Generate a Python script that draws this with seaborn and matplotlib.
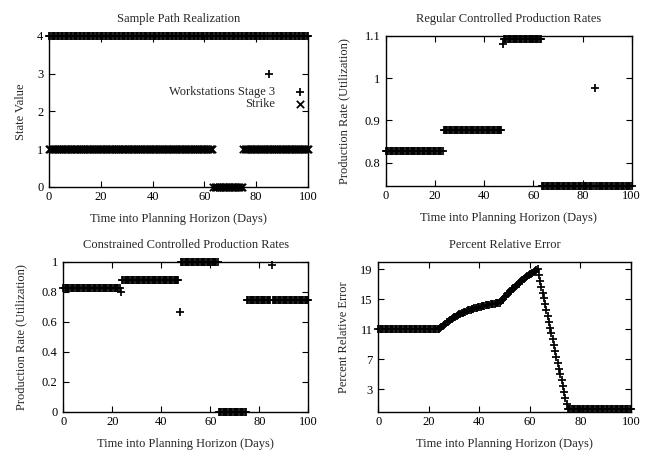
import numpy as np
import pandas as pd
import seaborn as sns
import matplotlib.pyplot as plt

# ---------------- data ----------------
# sampling instants of the simulation (half-day steps, 0..100 days)
days = np.arange(0, 100.5, 0.5)

# run-length encoded step series: (level, number of samples)
workstations_levels = [4, 3, 4]
workstations_counts = [170, 1, 30]

strike_levels = [1, 0, 1]
strike_counts = [127, 23, 51]

regular_levels = [0.828, 0.877, 1.082, 1.093, 0.745, 0.978, 0.745]
regular_counts = [47, 48, 1, 31, 43, 1, 30]

constrained_levels = [0.828, 0.80, 0.877, 0.667, 1.0, 0.0, 0.745, 0.978, 0.745]
constrained_counts = [47, 1, 47, 1, 31, 23, 20, 1, 30]

# percent relative error, segment by segment
error_flat_start = [11.0] * 49
error_rise_1 = [11.17, 11.32, 11.48, 11.62, 11.76, 11.90, 12.02, 12.15, 12.27, 12.38,
                12.49, 12.59, 12.69, 12.79, 12.88, 12.97, 13.05, 13.14, 13.21, 13.29,
                13.36, 13.43, 13.50, 13.56, 13.62, 13.68, 13.73, 13.79, 13.84, 13.89,
                13.94, 13.98, 14.02, 14.07, 14.11, 14.14, 14.18, 14.22, 14.25, 14.28,
                14.31, 14.34, 14.37, 14.40, 14.43, 14.45, 14.48, 14.50]
error_rise_2 = [14.70, 14.89, 15.08, 15.27, 15.45, 15.63, 15.80, 15.97, 16.14, 16.31,
                16.47, 16.63, 16.78, 16.94, 17.09, 17.23, 17.37, 17.52, 17.65, 17.79,
                17.92, 18.05, 18.18, 18.30, 18.42, 18.54, 18.66, 18.78, 18.89, 19.00]
error_fall = [18.22, 17.44, 16.66, 15.88, 15.10, 14.32, 13.55, 12.77, 11.99, 11.21,
              10.43, 9.65, 8.87, 8.09, 7.31, 6.53, 5.76, 4.98, 4.20, 3.42,
              2.64, 1.86, 1.08, 0.30]
error_flat_end = [0.3] * 50

xticks = [0, 20, 40, 60, 80, 100]
xlabel = "Time into Planning Horizon (Days)"
titles = ["Sample Path Realization", "Regular Controlled Production Rates",
          "Constrained Controlled Production Rates", "Percent Relative Error"]

# ---------------- build tables ----------------
def expand(levels, counts):
    return np.repeat(np.array(levels, dtype=float), counts)

error = np.array(error_flat_start + error_rise_1 + error_rise_2 + error_fall + error_flat_end)

df = pd.DataFrame({
    "day": days,
    "workstations": expand(workstations_levels, workstations_counts),
    "strike": expand(strike_levels, strike_counts),
    "regular": expand(regular_levels, regular_counts),
    "constrained": expand(constrained_levels, constrained_counts),
    "error": error,
})

# ---------------- style ----------------
FS = 9
sns.set_theme(style="ticks")
plt.rcParams["font.family"] = ["Liberation Serif", "DejaVu Serif"]
plt.rcParams["font.size"] = FS
plt.rcParams["axes.linewidth"] = 1.0

W, H = 645, 451
fig = plt.figure(figsize=(W / 100, H / 100), dpi=100)

def make_ax(left, right, top, bottom):
    return fig.add_axes([left / W, 1 - bottom / H, (right - left) / W, (bottom - top) / H])

ax1 = make_ax(49, 308, 36, 186.7)
ax2 = make_ax(386, 631.7, 36, 185.7)
ax3 = make_ax(63.3, 308.3, 261.7, 411.7)
ax4 = make_ax(378.3, 631, 261.7, 411.7)

mk = dict(color="black", s=40, linewidth=1.25, clip_on=False, zorder=3)

sns.scatterplot(data=df, x="day", y="workstations", marker="+", ax=ax1,
                label="Workstations Stage 3", **mk)
sns.scatterplot(data=df, x="day", y="strike", marker="x", ax=ax1,
                label="Strike", **{**mk, "s": 28})
sns.scatterplot(data=df, x="day", y="regular", marker="+", ax=ax2, legend=False, **mk)
sns.scatterplot(data=df, x="day", y="constrained", marker="+", ax=ax3, legend=False, **mk)
sns.scatterplot(data=df, x="day", y="error", marker="+", ax=ax4, legend=False, **mk)

ax1.set_ylim(0, 4)
ax1.set_yticks([0, 1, 2, 3, 4])
ax1.set_yticklabels(["0", "1", "2", "3", "4"])
ax2.set_ylim(0.7455, 1.1)
ax2.set_yticks([0.8, 0.9, 1.0, 1.1])
ax2.set_yticklabels(["0.8", "0.9", "1", "1.1"])
ax3.set_ylim(0, 1)
ax3.set_yticks([0, 0.2, 0.4, 0.6, 0.8, 1.0])
ax3.set_yticklabels(["0", "0.2", "0.4", "0.6", "0.8", "1"])
ax4.set_ylim(0, 20)
ax4.set_yticks([3, 7, 11, 15, 19])
ax4.set_yticklabels(["3", "7", "11", "15", "19"])

ylabels = ["State Value", "Production Rate (Utilization)",
           "Production Rate (Utilization)", "Percent Relative Error"]
ylab_px = [27, 350, 27, 350]
lefts = [49, 386, 63.3, 378.3]
widths = [259, 245.7, 245, 252.7]
for ax, title, yl, ypx, lft, wd in zip([ax1, ax2, ax3, ax4], titles, ylabels, ylab_px, lefts, widths):
    ax.set_xlim(0, 100)
    ax.set_xticks(xticks)
    ax.set_xticklabels([str(v) for v in xticks])
    ax.tick_params(direction="in", length=4.5, width=0.8, top=True, right=True,
                   labelsize=FS, pad=3, colors="black")
    ax.tick_params(axis="y", pad=4)
    for s in ax.spines.values():
        s.set_visible(True)
        s.set_color("black")
        s.set_linewidth(1.0)
    ax.set_title(title, fontsize=FS, pad=10)
    ax.set_xlabel(xlabel, fontsize=FS)
    ax.set_ylabel(yl, fontsize=FS)
    ax.xaxis.set_label_coords(0.5, -0.175)
    ax.yaxis.set_label_coords((ypx - lft) / wd, 0.5)
    ax.set_facecolor("white")

leg = ax1.legend(loc="upper right", bbox_to_anchor=(0.992, 0.668), frameon=False,
                 markerfirst=False, fontsize=FS, handlelength=1.0, handletextpad=1.5,
                 labelspacing=0.0, borderaxespad=0, borderpad=0)

fig.savefig("out.png", dpi=100, facecolor="white")
